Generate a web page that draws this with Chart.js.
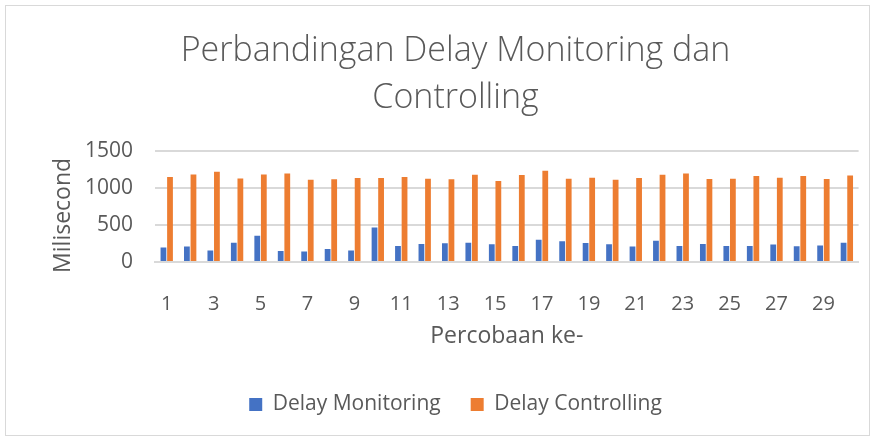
<!DOCTYPE html>
<html>
<head>
<meta charset="utf-8">
<script src="https://cdn.jsdelivr.net/npm/chart.js@4.4.0/dist/chart.umd.min.js"></script>
<style>
  html, body { margin: 0; padding: 0; background: #fff; }
  #wrap { position: absolute; left: 5px; top: 5px; width: 863px; height: 429px; border: 1px solid #d9d9d9; }
</style>
</head>
<body>
<div id="wrap"><canvas id="myChart" width="863" height="429"></canvas></div>
<script>
const percobaan = ['1','2','3','4','5','6','7','8','9','10','11','12','13','14','15','16','17','18','19','20','21','22','23','24','25','26','27','28','29','30'];
const delayMonitoring = [195, 208, 155, 261, 354, 150, 142, 177, 155, 465, 217, 243, 252, 261, 239, 217, 301, 279, 257, 239, 208, 288, 217, 243, 217, 217, 235, 212, 221, 261];
const delayControlling = [1146, 1181, 1217, 1128, 1181, 1195, 1111, 1115, 1133, 1133, 1146, 1124, 1115, 1177, 1093, 1173, 1230, 1124, 1137, 1111, 1133, 1177, 1195, 1119, 1124, 1159, 1137, 1159, 1119, 1168];
const yTicks = [0, 500, 1000, 1500];

const textColor = '#595959';
const gridColor = '#d9d9d9';

new Chart(document.getElementById('myChart'), {
  type: 'bar',
  data: {
    labels: percobaan,
    datasets: [
      { label: 'Delay Monitoring', data: delayMonitoring, backgroundColor: '#4472c4', borderWidth: 0 },
      { label: 'Delay Controlling', data: delayControlling, backgroundColor: '#ed7d31', borderWidth: 0 },
    ],
  },
  options: {
    responsive: false,
    animation: false,
    layout: { padding: { left: 44, right: 8, top: 22, bottom: 10 } },
    datasets: { bar: { categoryPercentage: 0.56, barPercentage: 0.88 } },
    plugins: {
      title: {
        display: true,
        text: ['Perbandingan Delay Monitoring dan', 'Controlling'],
        color: textColor,
        font: { family: 'Open Sans', size: 34, weight: '300', lineHeight: 1.38 },
        padding: { top: 0, bottom: 29 },
      },
      legend: {
        position: 'bottom',
        labels: {
          color: textColor,
          font: { family: 'Open Sans', size: 21 },
          boxWidth: 13,
          boxHeight: 13,
          padding: 30,
        },
      },
      tooltip: { enabled: false },
    },
    scales: {
      x: {
        afterFit: (axis) => { axis.height = 102; },
        grid: { display: false },
        border: { display: true, color: gridColor, width: 2 },
        ticks: {
          color: textColor,
          font: { family: 'Open Sans', size: 20 },
          autoSkip: false,
          maxRotation: 0,
          padding: 22,
          callback: (v, i) => (i % 2 === 0 ? percobaan[i] : ''),
        },
        title: {
          display: true,
          text: 'Percobaan ke-',
          color: textColor,
          font: { family: 'Open Sans', size: 23 },
          padding: { top: 0, bottom: 14 },
        },
      },
      y: {
        min: 0,
        max: 1500,
        afterFit: (axis) => { axis.width = 105; },
        afterBuildTicks: (axis) => { axis.ticks = yTicks.map((v) => ({ value: v })); },
        grid: { color: gridColor, lineWidth: 2, drawTicks: false },
        border: { display: false },
        ticks: {
          color: textColor,
          font: { family: 'Open Sans', size: 21 },
          padding: 22,
          callback: (v) => String(v),
        },
        title: {
          display: true,
          text: 'Milisecond   ',
          color: textColor,
          font: { family: 'Open Sans', size: 23 },
          padding: { top: 0, bottom: 14 },
        },
      },
    },
  },
});
</script>
</body>
</html>
